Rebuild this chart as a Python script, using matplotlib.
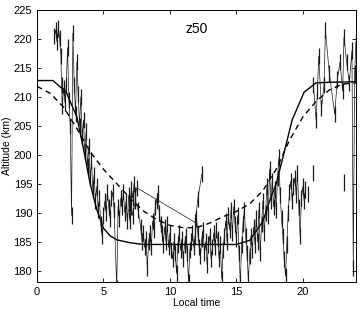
import matplotlib
matplotlib.use("Agg")
import matplotlib.pyplot as plt
import numpy as np

plt.rcParams['font.family'] = ['Liberation Sans', 'DejaVu Sans']

# model curves
solid_t = [0, 1.2, 2.2, 3.0, 3.5, 4.0, 4.5, 5.0, 5.5, 6.0, 7.0, 8.0, 15.0, 16.0, 17.0,
           17.5, 18.0, 18.5, 19.2, 20.1, 21.0, 22.0, 24.0]
solid_alt = [212.8, 212.8, 210.8, 206.5, 201.0, 195.0, 190.5, 187.3, 186.0, 185.3, 184.8,
             184.5, 184.5, 185.2, 188.5, 192.0, 195.0, 199.5, 206.0, 210.8, 212.4, 212.5, 212.6]

dash_t = [0, 1, 2, 3, 4, 5, 6, 7, 8, 9, 10, 11, 12, 13, 14, 15, 16, 17, 18, 19, 20, 21, 22, 23, 24]
dash_alt = [211.8, 210.6, 208.2, 204.5, 200.5, 197.5, 195.0, 192.5, 190.3, 188.8, 187.8, 187.4,
            187.4, 188.2, 189.3, 190.2, 191.5, 193.8, 197.5, 202.5, 206.5, 209.2, 211.2, 212.2, 212.4]

# measured altitudes, one list per pass
pass1_t = [1.30, 1.40, 1.50, 1.60, 1.70, 1.80, 1.85, 1.90, 2.00, 2.10, 2.20, 2.30, 2.40, 2.50,
           2.60, 2.70, 2.80, 2.90, 3.00, 3.10, 3.20, 3.30, 3.40, 3.50, 3.60, 3.70, 3.80, 3.90,
           4.00, 4.10, 4.20, 4.30, 4.40, 4.50, 4.60, 4.70, 4.80, 4.90, 5.00, 5.10, 5.20, 5.30,
           5.40, 5.50, 5.60, 5.70, 5.80, 6.00, 6.10, 6.20, 6.30, 6.40, 6.50, 6.60, 6.70, 6.80,
           6.90, 7.00, 7.10, 7.20, 7.30, 7.40, 7.50, 11.90, 12.10, 12.40]
pass1_alt = [220.5, 221.5, 219.5, 221.8, 220.2, 217.0, 212.0, 208.5, 211.5, 209.0, 212.0, 218.5,
             209.5, 205.0, 189.5, 221.0, 212.0, 207.0, 216.0, 210.5, 205.0, 210.0, 203.0, 206.0,
             200.5, 204.0, 198.0, 201.5, 196.0, 199.0, 194.0, 196.5, 192.0, 194.5, 190.5, 192.5,
             188.0, 186.0, 189.5, 192.0, 190.0, 193.5, 191.0, 189.0, 192.5, 193.5, 190.5, 177.0,
             191.0, 189.0, 192.5, 191.0, 193.5, 190.0, 192.0, 188.5, 193.0, 191.5, 194.0, 192.5,
             195.0, 193.0, 194.3, 188.3, 192.3, 196.6]

pass2_t = [6.9, 7.0, 7.1, 7.2, 7.4, 7.6, 7.8, 7.9, 8.0, 8.1, 8.2, 8.3, 8.4, 8.5, 8.6, 8.7, 8.8,
           8.9, 9.0, 9.1, 9.2, 9.3, 9.4, 9.5, 9.6, 9.7, 9.8, 9.9, 10.0, 10.1, 10.2, 10.3, 10.4,
           10.5, 10.6, 10.7, 10.8, 10.9, 11.0, 11.1, 11.2, 11.3, 11.4, 11.5, 11.6, 11.7, 11.8,
           11.9, 12.0, 12.1, 12.2, 12.3, 12.4, 12.5, 12.6, 12.7, 12.8, 12.9, 13.0, 13.1, 13.2,
           13.3, 13.4, 13.5, 13.6, 13.7, 13.8, 13.9, 14.0, 14.1, 14.2, 14.3, 14.4, 14.5, 14.6,
           14.7, 14.8, 14.9, 15.0, 15.1, 15.2, 15.3, 15.4, 15.5, 15.6, 15.7, 15.8, 15.9, 16.0,
           16.1, 16.2, 16.3, 16.4, 16.5, 16.6, 16.7, 16.8, 16.9, 17.0, 17.1, 17.2, 17.3, 17.4,
           17.5, 17.6, 17.7, 17.8, 17.9, 18.0, 18.1, 18.2, 18.3, 18.4, 18.5, 18.6, 18.7, 18.8,
           18.9, 19.0, 19.1, 19.2, 19.3, 19.4, 19.5, 19.6, 19.7, 19.8, 19.9, 20.0, 20.1, 20.2]
pass2_alt = [190.5, 188.5, 191.0, 189.5, 192.0, 190.5, 187.5, 185.0, 186.5, 184.0, 185.5, 180.5,
             185.0, 186.5, 184.0, 188.5, 187.0, 191.0, 192.0, 193.3, 190.0, 188.0, 186.5, 184.5,
             187.5, 185.0, 188.0, 184.0, 186.5, 183.5, 182.0, 185.0, 183.0, 179.5, 184.5, 186.5,
             183.5, 185.5, 182.0, 184.5, 186.0, 183.0, 178.0, 183.5, 185.0, 186.5, 184.0, 186.0,
             189.0, 186.5, 184.0, 182.5, 185.5, 187.0, 183.0, 185.0, 181.0, 184.5, 186.0, 182.0,
             184.0, 186.5, 184.0, 187.0, 185.5, 182.0, 184.5, 178.5, 183.5, 186.0, 188.5, 185.0,
             189.5, 187.0, 190.5, 186.5, 191.0, 188.0, 185.5, 189.5, 183.0, 178.0, 184.5, 188.0,
             190.5, 186.0, 183.0, 178.5, 182.5, 186.0, 183.5, 187.5, 184.5, 189.0, 185.0, 190.5,
             183.0, 188.0, 192.0, 186.5, 190.0, 194.5, 189.5, 197.5, 192.0, 195.5, 191.0, 194.0,
             190.5, 196.0, 199.5, 193.0, 189.0, 186.0, 182.0, 179.0, 184.5, 190.0, 193.5, 195.5,
             192.0, 194.5, 196.0, 193.0, 196.8, 191.0, 186.0, 192.5, 194.5, 192.0, 194.0]

pass3_t = [20.8, 21.0, 21.1, 21.2, 21.4, 21.6, 21.7, 22.0, 22.4, 22.6, 22.8, 23.0, 23.1, 23.3,
           23.5, 23.7, 23.8, 23.9, 24.0]
pass3_alt = [212.0, 206.0, 211.0, 217.0, 208.0, 212.0, 221.5, 214.0, 207.0, 213.0, 216.0, 211.0,
             220.3, 216.0, 212.4, 218.0, 180.5, 214.0, 219.5]

# isolated points
lone_t = [20.8, 20.4, 23.1]
lone_alt = [196.8, 193.2, 195.2]

ERR_KM = 1.4

fig, ax = plt.subplots(figsize=(3.61, 3.09), dpi=100)
fig.subplots_adjust(left=0.1025, right=0.986, bottom=0.087, top=0.968)

for t, a in [(pass1_t, pass1_alt), (pass2_t, pass2_alt), (pass3_t, pass3_alt)]:
    ax.errorbar(t, a, yerr=ERR_KM, color='#1a1a1a', lw=0.5, elinewidth=0.9, capsize=0)
ax.errorbar(lone_t, lone_alt, yerr=ERR_KM, fmt='none', ecolor='#1a1a1a', elinewidth=0.9, capsize=0)

ax.plot(solid_t, solid_alt, color='black', lw=1.0)
ax.plot(dash_t, dash_alt, color='black', lw=1.0, ls=(0, (4, 3)))

ax.set_xlim(0, 24)
ax.set_ylim(178, 225)
ax.set_xticks([0, 5, 10, 15, 20])
ax.set_yticks(np.arange(180, 226, 5))
ax.tick_params(direction='in', top=True, right=True, labelsize=8, length=3, width=0.6)
for s in ax.spines.values():
    s.set_linewidth(0.7)

ax.text(0.5, 0.93, 'z50', transform=ax.transAxes, ha='center', va='center', fontsize=10)
ax.set_ylabel('Altitude (km)', fontsize=7.5, labelpad=1)
ax.set_xlabel('Local time', fontsize=7.5, labelpad=1)

plt.savefig("out.png", dpi=100)
